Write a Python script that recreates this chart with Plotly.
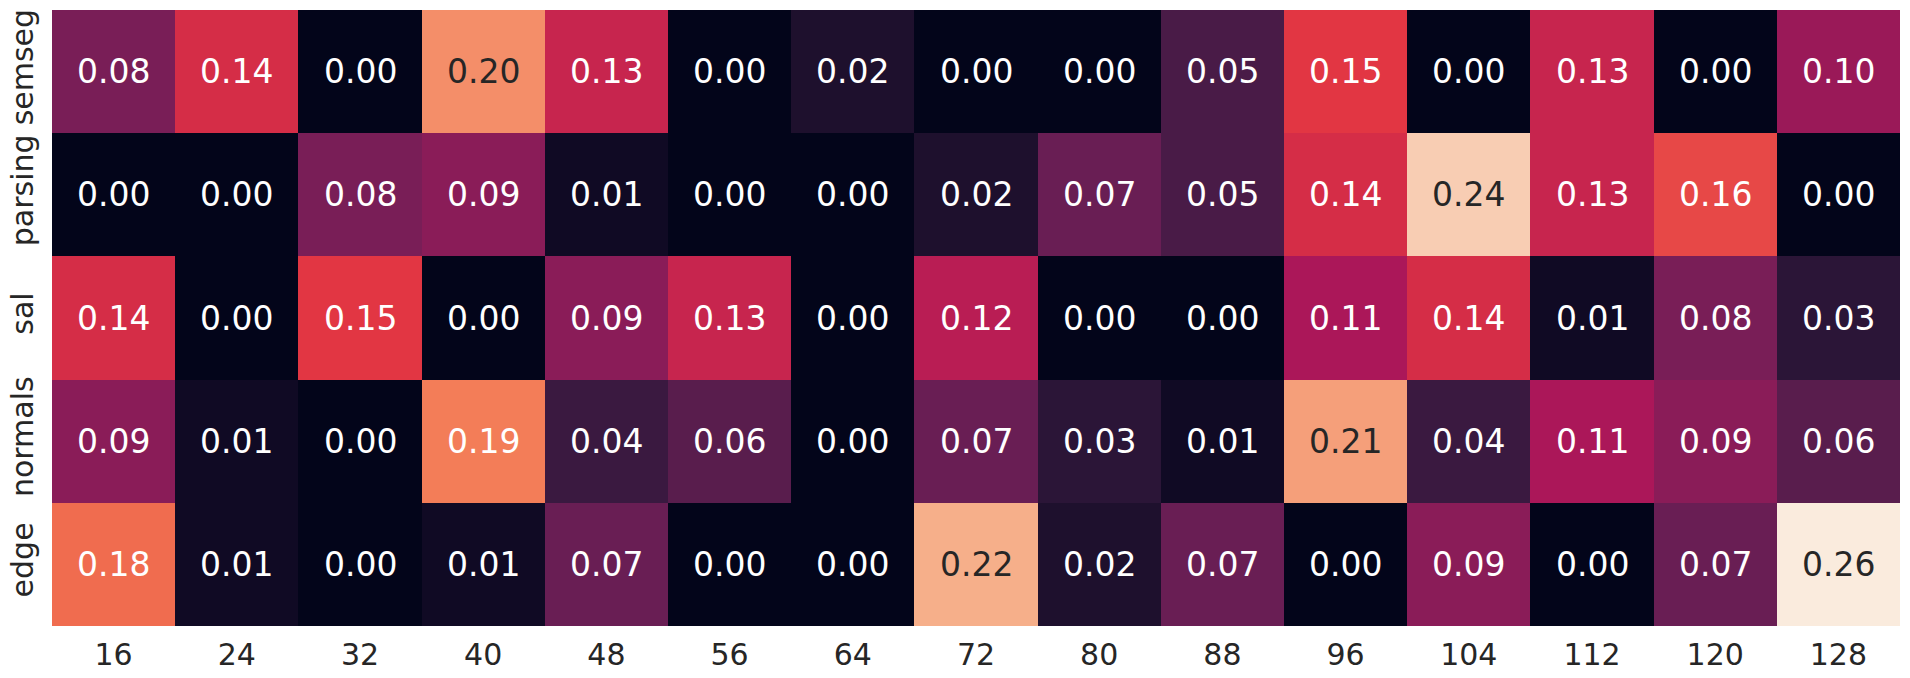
import plotly.graph_objects as go

tasks = ["semseg", "parsing", "sal", "normals", "edge"]
channels = ["16", "24", "32", "40", "48", "56", "64", "72", "80", "88", "96", "104", "112", "120", "128"]

semseg = [0.08, 0.14, 0.00, 0.20, 0.13, 0.00, 0.02, 0.00, 0.00, 0.05, 0.15, 0.00, 0.13, 0.00, 0.10]
parsing = [0.00, 0.00, 0.08, 0.09, 0.01, 0.00, 0.00, 0.02, 0.07, 0.05, 0.14, 0.24, 0.13, 0.16, 0.00]
sal = [0.14, 0.00, 0.15, 0.00, 0.09, 0.13, 0.00, 0.12, 0.00, 0.00, 0.11, 0.14, 0.01, 0.08, 0.03]
normals = [0.09, 0.01, 0.00, 0.19, 0.04, 0.06, 0.00, 0.07, 0.03, 0.01, 0.21, 0.04, 0.11, 0.09, 0.06]
edge = [0.18, 0.01, 0.00, 0.01, 0.07, 0.00, 0.00, 0.22, 0.02, 0.07, 0.00, 0.09, 0.00, 0.07, 0.26]

z = [semseg, parsing, sal, normals, edge]

# seaborn "rocket" colormap, sampled
rocket = [
    [0.0, "#03051a"],
    [1 / 7, "#35193e"],
    [2 / 7, "#701f57"],
    [3 / 7, "#ad1759"],
    [4 / 7, "#e13342"],
    [5 / 7, "#f37651"],
    [6 / 7, "#f6b48f"],
    [1.0, "#faebdd"],
]

zmax = max(max(r) for r in z)
xs = list(range(len(channels)))
ys = list(range(len(tasks)))

fig = go.Figure(go.Heatmap(
    z=z, x=xs, y=ys,
    colorscale=rocket, zmin=0, zmax=zmax,
    showscale=False,
))

for i, row in enumerate(z):
    for j, v in enumerate(row):
        fig.add_annotation(
            x=xs[j], y=ys[i], text=f"{v:.2f}", showarrow=False,
            font=dict(size=33, color="#262626" if v / zmax > 0.75 else "white",
                      family="DejaVu Sans"),
        )

fig.update_xaxes(tickvals=xs, ticktext=channels, range=[-0.5, len(xs) - 0.5],
                 ticks="outside", ticklen=2, tickcolor="rgba(0,0,0,0)", tickangle=0,
                 showgrid=False, zeroline=False, showline=False, automargin=False,
                 tickfont=dict(size=30, color="#262626", family="DejaVu Sans"))
fig.update_yaxes(tickvals=ys, ticktext=tasks, range=[len(ys) - 0.5, -0.5],
                 ticks="outside", ticklen=6, tickcolor="rgba(0,0,0,0)", tickangle=-90,
                 showgrid=False, zeroline=False, showline=False, automargin=False,
                 tickfont=dict(size=30, color="#262626", family="DejaVu Sans"))

fig.update_layout(
    width=1910, height=678,
    margin=dict(l=52, r=10, t=10, b=52),
    paper_bgcolor="white", plot_bgcolor="white",
)

# drop the browser's default 8px body margin so the figure fills the window
fig.write_html("out.html", config={"displayModeBar": False},
               post_script="document.body.style.margin = '0';")
